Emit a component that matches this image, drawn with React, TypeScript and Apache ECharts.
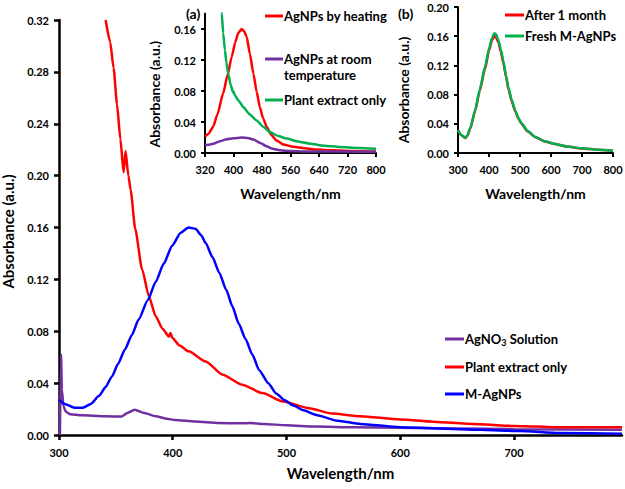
import React, { useEffect, useRef } from 'react';
import * as echarts from 'echarts';

const FONT = "Lato, 'Open Sans', 'Liberation Sans', sans-serif";

// ---------- Main chart ----------
const mainXTicks = [300, 400, 500, 600, 700];
const mainYTicks = [0, 0.04, 0.08, 0.12, 0.16, 0.2, 0.24, 0.28, 0.32];

const agno3Wl = [300.8, 301.8, 302.5, 304, 306, 310, 320, 340, 355, 360, 366.5, 375, 385, 395, 402, 420, 440, 460, 468, 480, 500, 525, 560, 600, 650, 700, 795];
const agno3Abs = [0.0, 0.062, 0.035, 0.022, 0.018, 0.016, 0.0152, 0.0145, 0.0142, 0.017, 0.0195, 0.017, 0.0145, 0.0125, 0.0116, 0.0105, 0.0093, 0.009, 0.0093, 0.0085, 0.0075, 0.0065, 0.006, 0.0055, 0.005, 0.0045, 0.004];

const plantWl = [341, 345, 348, 351, 354, 356.8, 358.5, 361, 363, 367, 373, 379, 385, 391, 396.5, 398, 399.5, 406, 414, 429, 444, 461, 479, 497, 520, 540, 565, 600, 635, 670, 700, 720, 740, 795];
const plantAbs = [0.32, 0.303, 0.283, 0.255, 0.228, 0.2025, 0.219, 0.2, 0.189, 0.159, 0.128, 0.107, 0.0916, 0.082, 0.076, 0.0787, 0.075, 0.069, 0.0645, 0.0567, 0.0464, 0.0387, 0.0323, 0.0258, 0.0207, 0.0165, 0.0145, 0.012, 0.0098, 0.0082, 0.007, 0.0065, 0.006, 0.006];

const mAgWl = [300, 305, 314, 321, 328, 335, 341, 346.5, 352, 358, 364, 370, 378, 385, 392, 399.5, 407, 414, 420, 425, 429, 435, 441, 447, 452.5, 458, 464, 470, 476, 484, 491, 498, 505.5, 515, 526, 545, 565, 600, 635, 670, 705, 740, 795];
const mAgAbs = [0.027, 0.024, 0.021, 0.021, 0.024, 0.03, 0.037, 0.045, 0.055, 0.066, 0.077, 0.089, 0.104, 0.118, 0.132, 0.146, 0.156, 0.16, 0.159, 0.154, 0.148, 0.137, 0.125, 0.112, 0.099, 0.086, 0.074, 0.062, 0.05, 0.04, 0.032, 0.027, 0.023, 0.019, 0.0155, 0.011, 0.0085, 0.006, 0.005, 0.004, 0.003, 0.0015, 0.001];

// ---------- Inset (a) ----------
const aXTicks = [320, 400, 480, 560, 640, 720, 800];
const aYTicks = [0, 0.04, 0.08, 0.12, 0.16];

const aHeatWl = [320, 330, 343, 355, 371, 383, 395, 405, 413.5, 423, 430, 437, 446, 456, 465, 474, 483, 493, 505, 521, 540, 568, 600, 633, 680, 727, 800];
const aHeatAbs = [0.021, 0.025, 0.034, 0.05, 0.077, 0.1, 0.124, 0.143, 0.155, 0.16, 0.157, 0.15, 0.128, 0.102, 0.079, 0.059, 0.045, 0.034, 0.024, 0.016, 0.011, 0.008, 0.006, 0.0045, 0.0035, 0.0027, 0.002];

const aRoomWl = [320, 330, 343, 360, 381, 400, 423, 440, 456, 475, 493, 510, 530, 560, 600, 700, 800];
const aRoomAbs = [0.01, 0.0105, 0.012, 0.015, 0.0177, 0.019, 0.02, 0.0195, 0.0173, 0.013, 0.0086, 0.0055, 0.0035, 0.0025, 0.002, 0.0018, 0.0015];

const aPlantWl = [364, 367, 371, 376, 380, 385, 392, 399, 401, 403, 415, 427.5, 445, 465, 483, 502, 525, 549, 580, 615, 655, 699, 750, 800];
const aPlantAbs = [0.2, 0.18, 0.155, 0.1325, 0.117, 0.1025, 0.088, 0.078, 0.079, 0.075, 0.067, 0.0594, 0.05, 0.042, 0.034, 0.027, 0.022, 0.0186, 0.015, 0.012, 0.0095, 0.0077, 0.0065, 0.0055];

// ---------- Inset (b) ----------
const bXTicks = [300, 400, 500, 600, 700, 800];
const bYTicks = [0, 0.04, 0.08, 0.12, 0.16, 0.2];

const bWl = [300, 310, 323.5, 330, 340, 355.5, 370, 387, 400, 410, 417, 422, 430, 438, 446, 455, 463, 473, 485, 495, 505, 525, 548, 580, 613, 650, 700, 750, 800];
const bMonthAbs = [0.031, 0.0245, 0.0205, 0.0235, 0.034, 0.058, 0.085, 0.115, 0.14, 0.155, 0.16, 0.159, 0.152, 0.139, 0.124, 0.104, 0.087, 0.071, 0.057, 0.047, 0.0398, 0.0295, 0.022, 0.0158, 0.0122, 0.0089, 0.0063, 0.0044, 0.003];
const bFreshAbs = [0.0315, 0.025, 0.021, 0.024, 0.035, 0.059, 0.087, 0.118, 0.143, 0.158, 0.164, 0.163, 0.155, 0.142, 0.127, 0.106, 0.089, 0.073, 0.058, 0.048, 0.0406, 0.03, 0.0223, 0.016, 0.0123, 0.009, 0.0064, 0.0045, 0.003];

const PURPLE = '#7030A0';
const RED = '#FF0000';
const BLUE = '#0000FF';
const GREEN = '#00B050';

const pairs = (x: number[], y: number[]) => x.map((v, i) => [v, y[i]]);
const step = (t: number[]) => t[1] - t[0];

function axisBase(width: number, tickLen: number, fontSize: number, margin: number, showMaxLabel: boolean, formatter?: any) {
  return {
    axisLine: { show: true, onZero: false, lineStyle: { color: '#000', width } },
    axisTick: { show: true, inside: false, length: tickLen, lineStyle: { color: '#000', width } },
    splitLine: { show: false },
    axisLabel: { color: '#000', fontFamily: FONT, fontWeight: 'bold', fontSize, margin, showMaxLabel, formatter },
  };
}

function nameStyle(fontSize: number, padding?: number[]) {
  return { color: '#000', fontFamily: FONT, fontWeight: 'bold', fontSize, padding };
}

function lineSeries(name: string, x: number, data: number[][], color: string, width: number, z = 2) {
  return {
    name,
    type: 'line',
    xAxisIndex: x,
    yAxisIndex: x,
    data,
    showSymbol: false,
    symbol: 'none',
    smooth: 0.2,
    smoothMonotone: 'x',
    clip: true,
    z,
    lineStyle: { color, width },
  };
}

function legendItem(x1: number, x2: number, y: number, color: string, text: string, fontSize: number, rich?: any) {
  return [
    { type: 'line', shape: { x1, y1: y, x2, y2: y }, style: { stroke: color, lineWidth: 3 } },
    {
      type: 'text',
      x: x2 + 1,
      y,
      style: {
        text,
        fill: '#000',
        fontFamily: FONT,
        fontWeight: 'bold',
        fontSize,
        align: 'left',
        verticalAlign: 'middle',
        rich,
      },
    },
  ];
}

export default function App() {
  const ref = useRef<HTMLDivElement>(null);
  useEffect(() => {
    const chart = echarts.init(ref.current!, null, { renderer: 'svg' });
    const fmt2 = (v: number) => v.toFixed(2);
    const option: any = {
      animation: false,
      backgroundColor: '#fff',
      grid: [
        { left: 59, top: 20, width: 563, height: 415, outerBoundsMode: 'none', containLabel: false },
        { left: 205, top: 13.5, width: 171, height: 139.5, outerBoundsMode: 'none', containLabel: false },
        { left: 458, top: 7, width: 155, height: 146, outerBoundsMode: 'none', containLabel: false },
      ],
      xAxis: [
        {
          type: 'value', gridIndex: 0, min: mainXTicks[0], max: 795, interval: step(mainXTicks),
          ...axisBase(2.5, 5, 11, 12, false),
          name: 'Wavelength/nm', nameLocation: 'middle', nameGap: 30, nameTextStyle: nameStyle(15),
        },
        {
          type: 'value', gridIndex: 1, min: aXTicks[0], max: aXTicks[aXTicks.length - 1], interval: step(aXTicks),
          ...axisBase(2, 4, 11, 11, true),
          name: 'Wavelength/nm', nameLocation: 'middle', nameGap: 33, nameTextStyle: nameStyle(14),
        },
        {
          type: 'value', gridIndex: 2, min: bXTicks[0], max: bXTicks[bXTicks.length - 1], interval: step(bXTicks),
          ...axisBase(2, 4, 11, 11, true),
          name: 'Wavelength/nm', nameLocation: 'middle', nameGap: 33, nameTextStyle: nameStyle(14),
        },
      ],
      yAxis: [
        {
          type: 'value', gridIndex: 0, min: mainYTicks[0], max: mainYTicks[mainYTicks.length - 1], interval: step(mainYTicks),
          ...axisBase(2.5, 5, 11, 10, true, fmt2),
          name: 'Absorbance (a.u.)', nameLocation: 'middle', nameGap: 44, nameRotate: 90, nameTextStyle: nameStyle(15, [0, 8, 0, 0]),
        },
        {
          type: 'value', gridIndex: 1, min: 0, max: 0.18, interval: step(aYTicks),
          ...axisBase(2, 4, 11, 9, false, fmt2),
          name: 'Absorbance (a.u.)', nameLocation: 'middle', nameGap: 44, nameRotate: 90, nameTextStyle: nameStyle(14, [0, 22, 0, 0]),
        },
        {
          type: 'value', gridIndex: 2, min: bYTicks[0], max: bYTicks[bYTicks.length - 1], interval: step(bYTicks),
          ...axisBase(2, 4, 11, 9, true, fmt2),
          name: 'Absorbance (a.u.)', nameLocation: 'middle', nameGap: 48, nameRotate: 90, nameTextStyle: nameStyle(14, [0, 20, 0, 0]),
        },
      ],
      series: [
        lineSeries('AgNO3 Solution', 0, pairs(agno3Wl, agno3Abs), PURPLE, 2.5, 2),
        lineSeries('Plant extract only', 0, pairs(plantWl, plantAbs), RED, 2.5, 3),
        lineSeries('M-AgNPs', 0, pairs(mAgWl, mAgAbs), BLUE, 2.5, 4),
        lineSeries('AgNPs by heating', 1, pairs(aHeatWl, aHeatAbs), RED, 2.5, 2),
        lineSeries('AgNPs at room temperature', 1, pairs(aRoomWl, aRoomAbs), PURPLE, 2.5, 3),
        lineSeries('Plant extract only (a)', 1, pairs(aPlantWl, aPlantAbs), GREEN, 2.5, 4),
        lineSeries('After 1 month', 2, pairs(bWl, bMonthAbs), RED, 2.5, 2),
        lineSeries('Fresh M-AgNPs', 2, pairs(bWl, bFreshAbs), GREEN, 2.5, 3),
      ],
      graphic: [
        ...legendItem(445, 464, 339, PURPLE, '{a|AgNO}{s|3}{a| Solution}', 13, {
          a: { fontFamily: FONT, fontWeight: 'bold', fontSize: 13, fill: '#000' },
          s: { fontFamily: FONT, fontWeight: 'bold', fontSize: 9, fill: '#000', padding: [7, 0, 0, 0] },
        }),
        ...legendItem(445, 464, 367, RED, 'Plant extract only', 13),
        ...legendItem(445, 464, 394, BLUE, 'M-AgNPs', 13),
        ...legendItem(265, 283, 16, RED, 'AgNPs by heating', 13),
        ...legendItem(265, 283, 59, PURPLE, 'AgNPs at room', 13),
        { type: 'text', x: 284, y: 75, style: { text: 'temperature', fill: '#000', fontFamily: FONT, fontWeight: 'bold', fontSize: 13, align: 'left', verticalAlign: 'middle' } },
        ...legendItem(265, 283, 100, GREEN, 'Plant extract only', 13),
        ...legendItem(505, 524, 15, RED, 'After 1 month', 13),
        ...legendItem(505, 524, 36, GREEN, 'Fresh M-AgNPs', 13),
        { type: 'text', x: 186, y: 13, style: { text: '(a)', fill: '#000', fontFamily: FONT, fontWeight: 'bold', fontSize: 14, align: 'left', verticalAlign: 'middle' } },
        { type: 'text', x: 398, y: 13, style: { text: '(b)', fill: '#000', fontFamily: FONT, fontWeight: 'bold', fontSize: 14, align: 'left', verticalAlign: 'middle' } },
      ],
    };
    chart.setOption(option);
    return () => chart.dispose();
  }, []);
  return <div ref={ref} style={{ position: 'absolute', left: 0, top: 0, width: 625, height: 489 }} />;
}
